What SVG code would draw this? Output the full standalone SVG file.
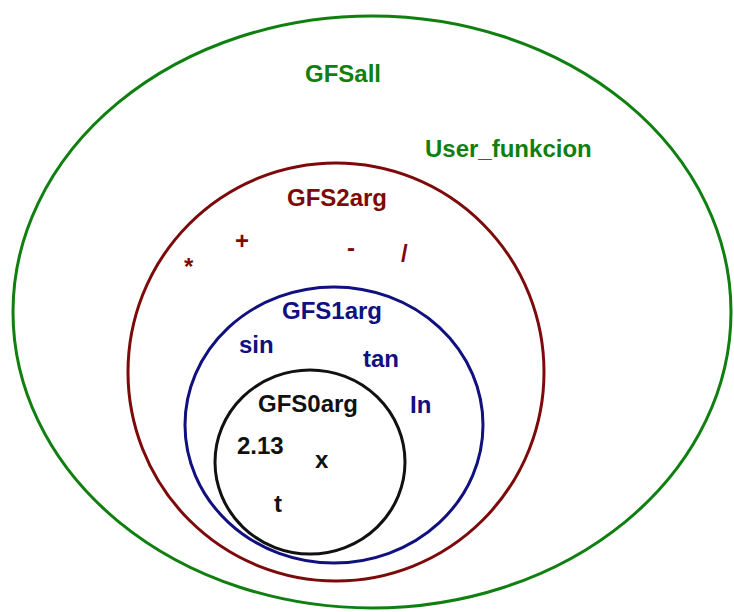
<svg xmlns="http://www.w3.org/2000/svg" width="734" height="612" viewBox="0 0 734 612">
<style>
  .set { fill: none; stroke-width: 3; }
  .lbl { font-family: "Liberation Sans", Arial, sans-serif; font-weight: bold; font-size: 24px; }
  .g { fill: #0f7f0f; } .gs { stroke: #0f7f0f; }
  .r { fill: #7d0a0a; } .rs { stroke: #7d0a0a; }
  .b { fill: #10107f; } .bs { stroke: #10107f; }
  .k { fill: #111111; } .ks { stroke: #111111; }
</style>
<rect width="734" height="612" fill="#ffffff"/>
<g id="GFSall">
  <ellipse class="set gs" cx="372" cy="312" rx="359" ry="296"/>
  <text class="lbl g" x="305" y="82">GFSall</text>
  <text class="lbl g" x="425" y="157">User_funkcion</text>
</g>
<g id="GFS2arg">
  <ellipse class="set rs" cx="336" cy="372" rx="208" ry="209"/>
  <text class="lbl r" x="287" y="206">GFS2arg</text>
  <text class="lbl r" x="184" y="275" font-size="17">*</text>
  <text class="lbl r" x="235" y="249">+</text>
  <text class="lbl r" x="347" y="256">-</text>
  <text class="lbl r" x="401" y="262">/</text>
</g>
<g id="GFS1arg">
  <ellipse class="set bs" cx="334" cy="425" rx="149" ry="138"/>
  <text class="lbl b" x="282" y="319">GFS1arg</text>
  <text class="lbl b" x="239" y="353">sin</text>
  <text class="lbl b" x="363" y="367">tan</text>
  <text class="lbl b" x="410" y="413">In</text>
</g>
<g id="GFS0arg">
  <ellipse class="set ks" cx="310" cy="462" rx="95" ry="92"/>
  <text class="lbl k" x="258" y="412">GFS0arg</text>
  <text class="lbl k" x="237" y="454">2.13</text>
  <text class="lbl k" x="315" y="468">x</text>
  <text class="lbl k" x="274" y="512">t</text>
</g>
<g id="connectors"/>
</svg>
